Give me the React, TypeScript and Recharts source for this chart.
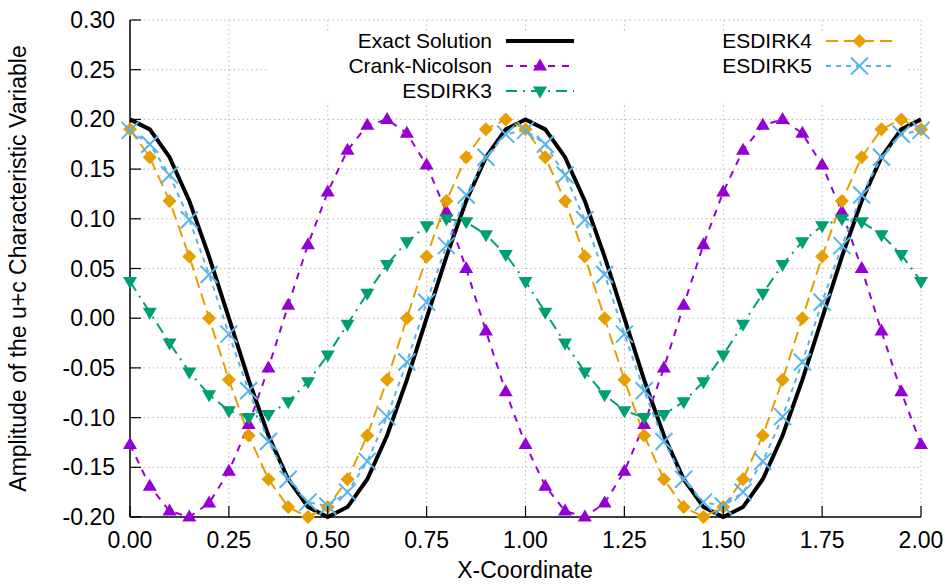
import { LineChart, Line, XAxis, YAxis, CartesianGrid } from "recharts";

const xValues = [
  0, 0.05, 0.1, 0.15, 0.2, 0.25, 0.3, 0.35, 0.4, 0.45, 0.5, 0.55, 0.6, 0.65, 0.7, 0.75, 0.8, 0.85, 0.9, 0.95, 1.0,
  1.05, 1.1, 1.15, 1.2, 1.25, 1.3, 1.35, 1.4, 1.45, 1.5, 1.55, 1.6, 1.65, 1.7, 1.75, 1.8, 1.85, 1.9, 1.95, 2.0,
];

const exactValues = [
  0.2, 0.19, 0.162, 0.118, 0.062, 0, -0.062, -0.118, -0.162, -0.19, -0.2, -0.19, -0.162, -0.118, -0.062, 0, 0.062, 0.118, 0.162, 0.19, 0.2,
  0.19, 0.162, 0.118, 0.062, 0, -0.062, -0.118, -0.162, -0.19, -0.2, -0.19, -0.162, -0.118, -0.062, 0, 0.062, 0.118, 0.162, 0.19, 0.2,
];

const crankNicolson = [
  -0.127, -0.169, -0.194, -0.2, -0.186, -0.154, -0.107, -0.05, 0.013, 0.074, 0.127, 0.169, 0.194, 0.2, 0.186, 0.154, 0.107, 0.05, -0.013, -0.074, -0.127,
  -0.169, -0.194, -0.2, -0.186, -0.154, -0.107, -0.05, 0.013, 0.074, 0.127, 0.169, 0.194, 0.2, 0.186, 0.154, 0.107, 0.05, -0.013, -0.074, -0.127,
];

const esdirk3 = [
  0.037, 0.006, -0.025, -0.054, -0.077, -0.093, -0.1, -0.097, -0.084, -0.064, -0.037, -0.006, 0.025, 0.054, 0.077, 0.093, 0.1, 0.097, 0.084, 0.064, 0.037,
  0.006, -0.025, -0.054, -0.077, -0.093, -0.1, -0.097, -0.084, -0.064, -0.037, -0.006, 0.025, 0.054, 0.077, 0.093, 0.1, 0.097, 0.084, 0.064, 0.037,
];

const esdirk4 = [
  0.19, 0.162, 0.118, 0.062, 0, -0.062, -0.118, -0.162, -0.19, -0.2, -0.19, -0.162, -0.118, -0.062, 0, 0.062, 0.118, 0.162, 0.19, 0.2, 0.19,
  0.162, 0.118, 0.062, 0, -0.062, -0.118, -0.162, -0.19, -0.2, -0.19, -0.162, -0.118, -0.062, 0, 0.062, 0.118, 0.162, 0.19, 0.2, 0.19,
];

const esdirk5 = [
  0.189, 0.175, 0.144, 0.099, 0.044, -0.016, -0.073, -0.124, -0.162, -0.185, -0.189, -0.175, -0.144, -0.099, -0.044, 0.016, 0.073, 0.124, 0.162, 0.185, 0.189,
  0.175, 0.144, 0.099, 0.044, -0.016, -0.073, -0.124, -0.162, -0.185, -0.189, -0.175, -0.144, -0.099, -0.044, 0.016, 0.073, 0.124, 0.162, 0.185, 0.189,
];

const xTicks = [0, 0.25, 0.5, 0.75, 1.0, 1.25, 1.5, 1.75, 2.0];
const yTicks = [-0.2, -0.15, -0.1, -0.05, 0, 0.05, 0.1, 0.15, 0.2, 0.25, 0.3];

const data = xValues.map((x, i) => ({
  x,
  exact: exactValues[i],
  cn: crankNicolson[i],
  e3: esdirk3[i],
  e4: esdirk4[i],
  e5: esdirk5[i],
}));

const FONT = "'Liberation Sans', Arial, Helvetica, sans-serif";
const FS = 23;
const LEGEND_FS = 21;
const TICK = 11;

type Marker = (cx: number, cy: number, color: string, key?: string) => any;

const triUp: Marker = (cx, cy, color, key) => (
  <path key={key} d={`M${cx},${cy - 7.5}L${cx - 7},${cy + 4.5}L${cx + 7},${cy + 4.5}Z`} fill={color} />
);
const triDown: Marker = (cx, cy, color, key) => (
  <path key={key} d={`M${cx},${cy + 7.5}L${cx - 7},${cy - 4.5}L${cx + 7},${cy - 4.5}Z`} fill={color} />
);
const diamond: Marker = (cx, cy, color, key) => (
  <path key={key} d={`M${cx},${cy - 7}L${cx + 7},${cy}L${cx},${cy + 7}L${cx - 7},${cy}Z`} fill={color} />
);
const cross: Marker = (cx, cy, color, key) => (
  <path key={key} d={`M${cx - 8.5},${cy - 8.5}L${cx + 8.5},${cy + 8.5}M${cx - 8.5},${cy + 8.5}L${cx + 8.5},${cy - 8.5}`} stroke={color} strokeWidth={2} fill="none" />
);

const series = [
  { key: "exact", name: "Exact Solution", color: "#000000", width: 4, dash: undefined, marker: null },
  { key: "cn", name: "Crank-Nicolson", color: "#9400d3", width: 2, dash: "7 7", marker: triUp },
  { key: "e3", name: "ESDIRK3", color: "#009e73", width: 2, dash: "11 6 2 6", marker: triDown },
  { key: "e4", name: "ESDIRK4", color: "#e69f00", width: 2, dash: "12 6", marker: diamond },
  { key: "e5", name: "ESDIRK5", color: "#56b4e9", width: 2, dash: "5 5", marker: cross },
];

const legendPos = [
  { textX: 492, sx1: 506, sx2: 574, y: 41 },
  { textX: 492, sx1: 506, sx2: 574, y: 66 },
  { textX: 492, sx1: 506, sx2: 574, y: 91 },
  { textX: 812, sx1: 826, sx2: 893, y: 41 },
  { textX: 812, sx1: 826, sx2: 893, y: 66 },
];

const BottomTick = (p: any) => (
  <g>
    <line x1={p.x} y1={p.y} x2={p.x} y2={p.y - TICK} stroke="#000" strokeWidth={1.2} />
    <text x={p.x} y={p.y + 31} textAnchor="middle" fontSize={FS} fontFamily={FONT} fill="#000">
      {Number(p.payload.value).toFixed(2)}
    </text>
  </g>
);
const TopTick = (p: any) => (
  <line x1={p.x} y1={p.y} x2={p.x} y2={p.y + TICK} stroke="#000" strokeWidth={1.2} />
);
const LeftTick = (p: any) => (
  <g>
    <line x1={p.x} y1={p.y} x2={p.x + TICK} y2={p.y} stroke="#000" strokeWidth={1.2} />
    <text x={p.x - 15} y={p.y + 8} textAnchor="end" fontSize={FS} fontFamily={FONT} fill="#000">
      {Number(p.payload.value).toFixed(2)}
    </text>
  </g>
);
const RightTick = (p: any) => (
  <line x1={p.x} y1={p.y} x2={p.x - TICK} y2={p.y} stroke="#000" strokeWidth={1.2} />
);

export default function App() {
  return (
    <div style={{ position: "absolute", left: 0, top: 0, width: 945, height: 585, background: "#fff" }}>
      <LineChart width={945} height={585} data={data} margin={{ top: 20, right: 24, bottom: 0, left: 0 }}>
        <CartesianGrid stroke="#b8b8b8" strokeDasharray="1.5 3" strokeWidth={1} />
        <XAxis
          dataKey="x"
          type="number"
          domain={[0, 2]}
          ticks={xTicks}
          height={68}
          tickSize={0}
          tickMargin={0}
          tickLine={false}
          axisLine={{ stroke: "#000", strokeWidth: 1.5 }}
          tick={(p: any) => <BottomTick {...p} />}
          interval={0}
        />
        <XAxis
          xAxisId="top"
          orientation="top"
          dataKey="x"
          type="number"
          domain={[0, 2]}
          ticks={xTicks}
          height={0}
          tickSize={0}
          tickMargin={0}
          tickLine={false}
          axisLine={{ stroke: "#000", strokeWidth: 1.5 }}
          tick={(p: any) => <TopTick {...p} />}
          interval={0}
        />
        <YAxis
          type="number"
          domain={[-0.2, 0.3]}
          ticks={yTicks}
          width={130}
          tickSize={0}
          tickMargin={0}
          tickLine={false}
          axisLine={{ stroke: "#000", strokeWidth: 1.5 }}
          tick={(p: any) => <LeftTick {...p} />}
          interval={0}
          label={{
            value: "Amplitude of the u+c Characteristic Variable",
            angle: -90,
            position: "insideLeft",
            dx: 13,
            dy: 0,
            style: { fontSize: FS, fontFamily: FONT, fill: "#000", textAnchor: "middle" },
          }}
        />
        <YAxis
          yAxisId="right"
          orientation="right"
          type="number"
          domain={[-0.2, 0.3]}
          ticks={yTicks}
          width={0}
          tickSize={0}
          tickMargin={0}
          tickLine={false}
          axisLine={{ stroke: "#000", strokeWidth: 1.5 }}
          tick={(p: any) => <RightTick {...p} />}
          interval={0}
        />
        {series.map((s) => (
          <Line
            key={s.key}
            dataKey={s.key}
            type="linear"
            stroke={s.color}
            strokeWidth={s.width}
            strokeDasharray={s.dash}
            isAnimationActive={false}
            activeDot={false}
            dot={
              s.marker
                ? (p: any) => s.marker!(p.cx, p.cy, s.color, `${s.key}-${p.index}`)
                : false
            }
          />
        ))}
      </LineChart>
      <svg
        width={945}
        height={585}
        style={{ position: "absolute", left: 0, top: 0, pointerEvents: "none" }}
      >
        <rect x={268} y={32} width={638} height={70} fill="#fff" />
        {series.map((s, i) => {
          const lp = legendPos[i];
          const mid = (lp.sx1 + lp.sx2) / 2;
          return (
            <g key={s.key}>
              <text x={lp.textX} y={lp.y + 7} textAnchor="end" fontSize={LEGEND_FS} fontFamily={FONT} fill="#000">
                {s.name}
              </text>
              <line
                x1={lp.sx1}
                y1={lp.y}
                x2={lp.sx2}
                y2={lp.y}
                stroke={s.color}
                strokeWidth={s.width}
                strokeDasharray={s.dash}
              />
              {s.marker ? s.marker(mid, lp.y, s.color) : null}
            </g>
          );
        })}
        <text x={525} y={578} textAnchor="middle" fontSize={FS} fontFamily={FONT} fill="#000">
          X-Coordinate
        </text>
      </svg>
    </div>
  );
}
